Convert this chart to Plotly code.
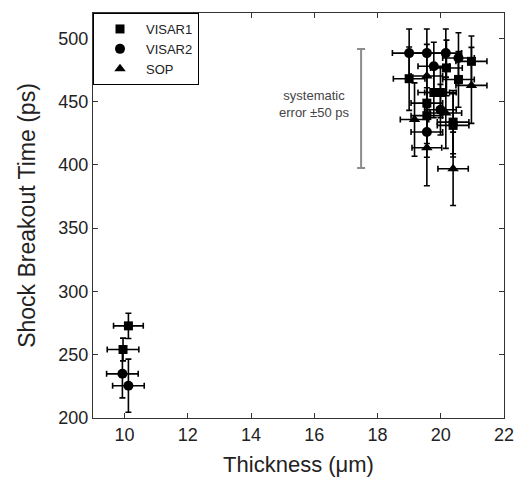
import plotly.graph_objects as go

# ---- data ----
visar1_x = [10.12, 9.95, 19.0, 19.56, 19.56, 19.78, 19.99, 20.18, 20.39, 20.39, 20.56, 20.97]
visar1_y = [272.8, 254.1, 468.1, 448.8, 438.9, 457.2, 457.2, 476.6, 433.8, 431.2, 467.5, 481.8]
visar1_xerr = [0.47, 0.5, 0.5, 0.5, 0.5, 0.5, 0.5, 0.5, 0.5, 0.5, 0.5, 0.49]
visar1_yerr = [10, 9, 25, 22, 22, 20, 20, 22, 25, 25, 22, 20]

visar2_x = [9.93, 10.12, 19.0, 19.56, 20.16, 20.56, 19.78, 19.99, 19.56]
visar2_y = [234.9, 225.5, 488.3, 488.3, 488.3, 484.4, 477.9, 443.6, 426.0]
visar2_xerr = [0.5, 0.5, 0.53, 0.5, 0.5, 0.5, 0.5, 0.5, 0.5]
visar2_yerr = [19, 21, 19, 19, 19, 20, 19, 20, 20]

sop_x = [19.56, 20.97, 20.16, 19.17, 19.56, 20.39]
sop_y = [470.2, 462.8, 441.0, 435.8, 413.5, 396.9]
sop_xerr = [0.5, 0.49, 0.5, 0.45, 0.47, 0.48]
sop_yerr = [25, 30, 28, 29, 30, 29]

sys_x = [17.48]
sys_y = [444.5]
sys_err = [47]

x_ticks = [10, 12, 14, 16, 18, 20, 22]
y_ticks = [200, 250, 300, 350, 400, 450, 500]

FONT = "Liberation Sans, Arial, sans-serif"


def series(name, xs, ys, xe, ye, symbol, size):
    return go.Scatter(
        x=xs, y=ys, mode="markers", name=name,
        marker=dict(symbol=symbol, size=size, color="black"),
        error_x=dict(type="data", array=xe, visible=True, color="black", thickness=1.6, width=3),
        error_y=dict(type="data", array=ye, visible=True, color="black", thickness=1.6, width=3),
    )


fig = go.Figure()
fig.add_trace(series("VISAR1", visar1_x, visar1_y, visar1_xerr, visar1_yerr, "square", 9))
fig.add_trace(series("VISAR2", visar2_x, visar2_y, visar2_xerr, visar2_yerr, "circle", 10))
fig.add_trace(series("SOP", sop_x, sop_y, sop_xerr, sop_yerr, "triangle-up", 10))

fig.add_trace(go.Scatter(
    x=sys_x, y=sys_y, mode="markers", showlegend=False,
    marker=dict(size=1, color="rgba(0,0,0,0)"),
    error_y=dict(type="data", array=sys_err, visible=True, color="#8c8c8c", thickness=2, width=4),
    hoverinfo="skip",
))

fig.add_annotation(
    x=15.98, y=448, text="systematic<br>error ±50 ps", showarrow=False,
    font=dict(family=FONT, size=13, color="#444"), align="center",
)

fig.update_layout(
    width=526, height=485,
    margin=dict(l=93, r=18, t=12, b=61),
    paper_bgcolor="white", plot_bgcolor="white",
    font=dict(family=FONT, color="#222"),
    showlegend=True,
    legend=dict(
        x=0, y=1, xanchor="left", yanchor="top",
        bordercolor="black", borderwidth=1, bgcolor="white",
        font=dict(family=FONT, size=13, color="#222"),
        tracegroupgap=0, itemwidth=42,
    ),
)

fig.update_xaxes(
    range=[9, 22], tickvals=x_ticks, ticks="inside", ticklen=5, tickwidth=1,
    tickcolor="#333", showline=True, linecolor="#333", linewidth=1, mirror="allticks",
    showgrid=False, zeroline=False,
    tickfont=dict(family=FONT, size=18, color="#222"),
    title=dict(text="Thickness (μm)", font=dict(family=FONT, size=22, color="#222"), standoff=13),
)
fig.update_yaxes(
    range=[200, 520], tickvals=y_ticks, ticks="inside", ticklen=5, tickwidth=1,
    tickcolor="#333", showline=True, linecolor="#333", linewidth=1, mirror="allticks",
    showgrid=False, zeroline=False,
    tickfont=dict(family=FONT, size=18, color="#222"),
    title=dict(text="Shock Breakout Time (ps)", font=dict(family=FONT, size=23, color="#222"), standoff=16),
)

fig.write_html("out.html")
